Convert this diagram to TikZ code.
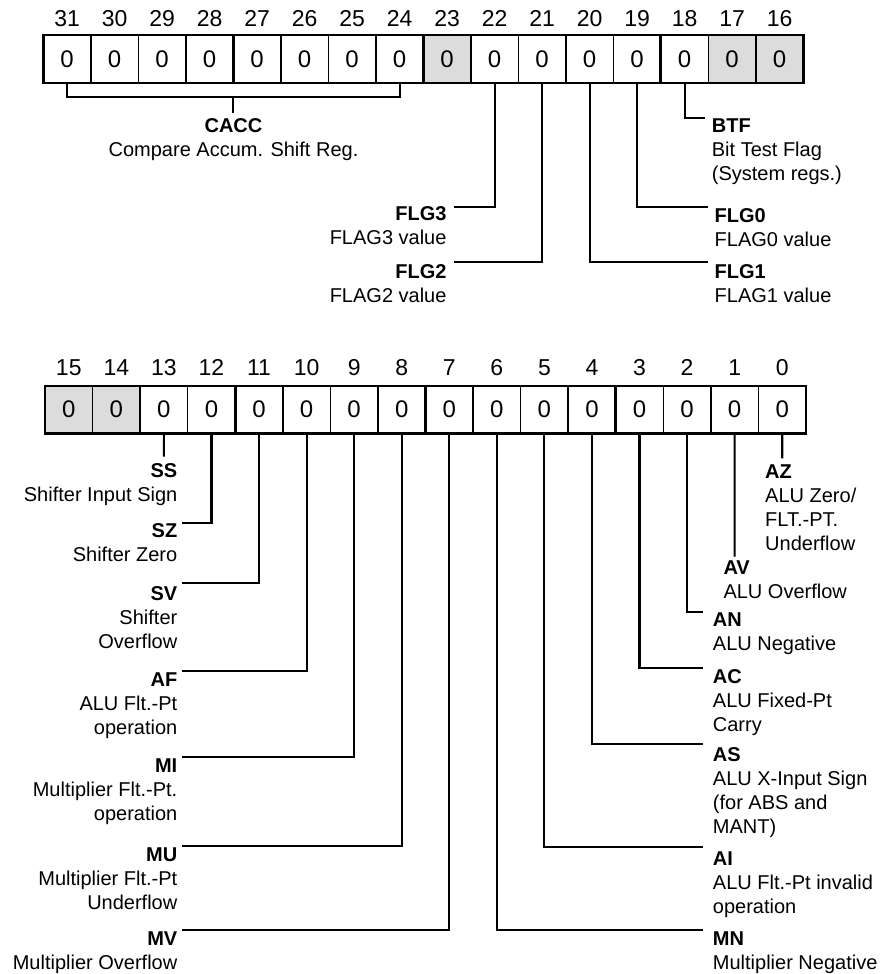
\documentclass[tikz,border=0pt]{standalone}
\usepackage{fontspec}
\setmainfont{Liberation Sans}
\definecolor{cellgray}{RGB}{220,220,220}
\newcommand{\Ltext}[1]{\begin{tabular}[t]{@{}r@{}}#1\end{tabular}}
\newcommand{\Rtext}[1]{\begin{tabular}[t]{@{}l@{}}#1\end{tabular}}
\newcommand{\Ctext}[1]{\begin{tabular}[t]{@{}c@{}}#1\end{tabular}}
\begin{document}
\begin{tikzpicture}[x=1pt,y=-1pt,
  cell/.style={draw, line width=1.4pt, minimum width=47.5pt, minimum height=48pt,
    inner sep=0pt, outer sep=0pt, font=\fontsize{24}{28}\selectfont},
  graycell/.style={cell, fill=cellgray},
  bitnum/.style={anchor=base, inner sep=0pt, font=\fontsize{23}{27}\selectfont},
  conn/.style={line width=2.1pt},
  sepline/.style={line width=2.8pt},
  lblL/.style={anchor=base east, inner sep=0pt, font=\fontsize{20}{24}\selectfont},
  lblR/.style={anchor=base west, inner sep=0pt, font=\fontsize{20}{24}\selectfont},
  lblC/.style={anchor=base, inner sep=0pt, font=\fontsize{20}{24}\selectfont},
]
\useasboundingbox (0,0) rectangle (886,974);

% ---------- upper register (bits 31..16)
\foreach \b in {31,30,...,16}{
  \pgfmathsetmacro\cx{43.3+47.5*(31-\b+0.5)}
  \def\sty{cell}
  \ifnum\b=23\relax \def\sty{graycell}\fi
  \ifnum\b=17\relax \def\sty{graycell}\fi
  \ifnum\b=16\relax \def\sty{graycell}\fi
  \node[\sty] (t\b) at (\cx,59) {0};
  \node[bitnum] (nt\b) at (\cx,26.7) {\b};
}
\draw[sepline] (t31.north west) rectangle (t16.south east);
\draw[sepline] (t28.north east) -- (t28.south east);
\draw[sepline] (t24.north east) -- (t24.south east);
\draw[sepline] (t19.north east) -- (t19.south east);

% ---------- lower register (bits 15..0)
\begin{scope}[cell/.append style={minimum width=47.5625pt, minimum height=47.3pt}]
\foreach \b in {15,14,...,0}{
  \pgfmathsetmacro\cx{45+47.5625*(15-\b+0.5)}
  \def\sty{cell}
  \ifnum\b=15\relax \def\sty{graycell}\fi
  \ifnum\b=14\relax \def\sty{graycell}\fi
  \node[\sty] (b\b) at (\cx,409.7) {0};
  \node[bitnum] (nb\b) at (\cx,375) {\b};
}
\end{scope}
\draw[sepline] (b15.north west) rectangle (b0.south east);
\draw[sepline] (b12.north east) -- (b12.south east);
\draw[sepline] (b8.north east) -- (b8.south east);
\draw[sepline] (b4.north east) -- (b4.south east);

% ---------- upper labels
\node[lblC] (cacc) at (233.5,132) {\Ctext{\textbf{CACC}\\Compare Accum. Shift Reg.}};
\coordinate (cacc-j) at (232.7,97.3);
\draw[conn] (t31.south) |- (cacc-j) -| (t24.south);
\draw[conn, shorten >=2.5pt] (cacc-j) -- (cacc-j |- cacc.north);

\node[lblR] (btf) at (711.7,132.7) {\Rtext{\textbf{BTF}\\Bit Test Flag\\(System regs.)}};
\coordinate (btf-e) at (705,118.3);
\draw[conn] (t18.south) |- (btf-e);

\node[lblL] (flg3) at (446.7,220.3) {\Ltext{\textbf{FLG3}\\FLAG3 value}};
\coordinate (flg3-e) at (454,206.7);
\draw[conn] (t22.south) |- (flg3-e);

\node[lblL] (flg2) at (446.7,278.7) {\Ltext{\textbf{FLG2}\\FLAG2 value}};
\coordinate (flg2-e) at (454,262.3);
\draw[conn] (t21.south) |- (flg2-e);

\node[lblR] (flg0) at (714.5,222.3) {\Rtext{\textbf{FLG0}\\FLAG0 value}};
\coordinate (flg0-e) at (708.3,206.7);
\draw[conn] (t19.south) |- (flg0-e);

\node[lblR] (flg1) at (714.5,278.7) {\Rtext{\textbf{FLG1}\\FLAG1 value}};
\coordinate (flg1-e) at (708.3,262.3);
\draw[conn] (t20.south) |- (flg1-e);

% ---------- lower left labels
\node[lblL] (ss) at (177.5,477) {\Ltext{\textbf{SS}\\Shifter Input Sign}};
\coordinate (ss-e) at (163.9,456.7);
\draw[conn] (b13.south) -- (ss-e);

\node[lblL] (sz) at (177.5,537) {\Ltext{\textbf{SZ}\\Shifter Zero}};
\coordinate (sz-e) at (181.7,523.3);
\draw[conn] (b12.south) |- (sz-e);

\node[lblL] (sv) at (177.5,600.3) {\Ltext{\textbf{SV}\\Shifter\\Overflow}};
\coordinate (sv-e) at (181.7,582.7);
\draw[conn] (b11.south) |- (sv-e);

\node[lblL] (af) at (177.5,686) {\Ltext{\textbf{AF}\\ALU Flt.-Pt\\operation}};
\coordinate (af-e) at (181.7,670.7);
\draw[conn] (b10.south) |- (af-e);

\node[lblL] (mi) at (177.5,772.7) {\Ltext{\textbf{MI}\\Multiplier Flt.-Pt.\\operation}};
\coordinate (mi-e) at (181.7,756.7);
\draw[conn] (b9.south) |- (mi-e);

\node[lblL] (mu) at (177.5,861.3) {\Ltext{\textbf{MU}\\Multiplier Flt.-Pt\\Underflow}};
\coordinate (mu-e) at (181.7,846);
\draw[conn] (b8.south) |- (mu-e);

\node[lblL] (mv) at (177.5,945.3) {\Ltext{\textbf{MV}\\Multiplier Overflow}};
\coordinate (mv-e) at (181.7,930);
\draw[conn] (b7.south) |- (mv-e);

% ---------- lower right labels
\node[lblR] (az) at (765,478.7) {\Rtext{\textbf{AZ}\\ALU Zero/\\FLT.-PT.\\Underflow}};
\coordinate (az-e) at (782.2,458.3);
\draw[conn] (b0.south) -- (az-e);

\node[lblR] (av) at (723.3,574.3) {\Rtext{\textbf{AV}\\ALU Overflow}};
\coordinate (av-e) at (734.6,556.7);
\draw[conn] (b1.south) -- (av-e);

\node[lblR] (an) at (712.7,626.3) {\Rtext{\textbf{AN}\\ALU Negative}};
\coordinate (an-e) at (703.3,611.7);
\draw[conn] (b2.south) |- (an-e);

\node[lblR] (ac) at (712.7,683) {\Rtext{\textbf{AC}\\ALU Fixed-Pt\\Carry}};
\coordinate (ac-e) at (703.3,667.7);
\draw[conn] (b3.south) |- (ac-e);

\node[lblR] (as) at (712.7,761.7) {\Rtext{\textbf{AS}\\ALU X-Input Sign\\(for ABS and\\MANT)}};
\coordinate (as-e) at (703.3,744);
\draw[conn] (b4.south) |- (as-e);

\node[lblR] (ai) at (712.7,865.3) {\Rtext{\textbf{AI}\\ALU Flt.-Pt invalid\\operation}};
\coordinate (ai-e) at (703.3,847.3);
\draw[conn] (b5.south) |- (ai-e);

\node[lblR] (mn) at (712.7,945.3) {\Rtext{\textbf{MN}\\Multiplier Negative}};
\coordinate (mn-e) at (703.3,930);
\draw[conn] (b6.south) |- (mn-e);
\end{tikzpicture}
\end{document}
